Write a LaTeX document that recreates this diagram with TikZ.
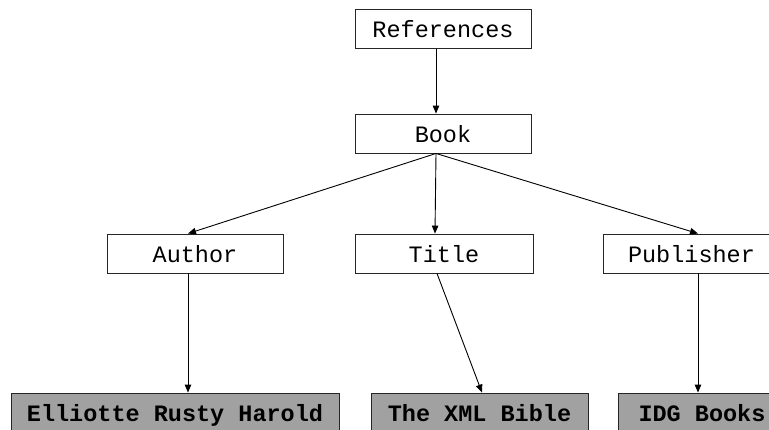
\documentclass[tikz,border=0pt]{standalone}
\usepackage{fontspec}
\setmonofont{Liberation Mono}
\usetikzlibrary{arrows.meta}
\begin{document}
\begin{tikzpicture}[x=1pt,y=-1pt,
  box/.style={draw=black!85, line width=0.9pt, inner sep=0pt, minimum height=39pt,
    text height=18pt, text depth=1pt,
    font=\fontsize{23.5}{28}\selectfont\ttfamily},
  leaf/.style={box, fill=black!37, font=\fontsize{23.5}{28}\selectfont\ttfamily\bfseries},
  arr/.style={line width=0.9pt, -{Triangle[length=8pt,width=6.5pt]}}]
\useasboundingbox (0,0) rectangle (769,429);
\clip (0,0) rectangle (769,429);
\node[box, minimum width=176pt] (ref) at (443,29) {References};
\node[box, minimum width=176pt] (book) at (443,133.5) {Book};
\node[box, minimum width=176pt] (author) at (195,253.5) {Author};
\node[box, minimum width=178pt] (title) at (444,253.5) {Title};
\node[box, minimum width=177pt] (pub) at (691.5,253.5) {Publisher};
\node[leaf, minimum width=328pt] (eh) at (175,412.5) {Elliotte Rusty Harold};
\node[leaf, minimum width=217pt] (xml) at (479.5,412.5) {The XML Bible};
\node[leaf, minimum width=168pt] (idg) at (702,412.5) {IDG Books};
\draw[arr] ([xshift=-7pt]ref.south) -- ([xshift=-7pt]book.north);
\draw[arr] ([xshift=-7pt]book.south) -- ([xshift=-7pt]author.north);
\draw[arr] ([xshift=-7pt]book.south) -- ([xshift=-9pt]title.north);
\draw[arr] ([xshift=-7pt]book.south) -- ([xshift=6.5pt]pub.north);
\draw[arr] ([xshift=-7pt]author.south) -- ([xshift=13pt]eh.north);
\draw[arr] ([xshift=-7pt]title.south) -- ([xshift=2.5pt]xml.north);
\draw[arr] ([xshift=6.5pt]pub.south) -- ([xshift=-4pt]idg.north);
\end{tikzpicture}
\end{document}
